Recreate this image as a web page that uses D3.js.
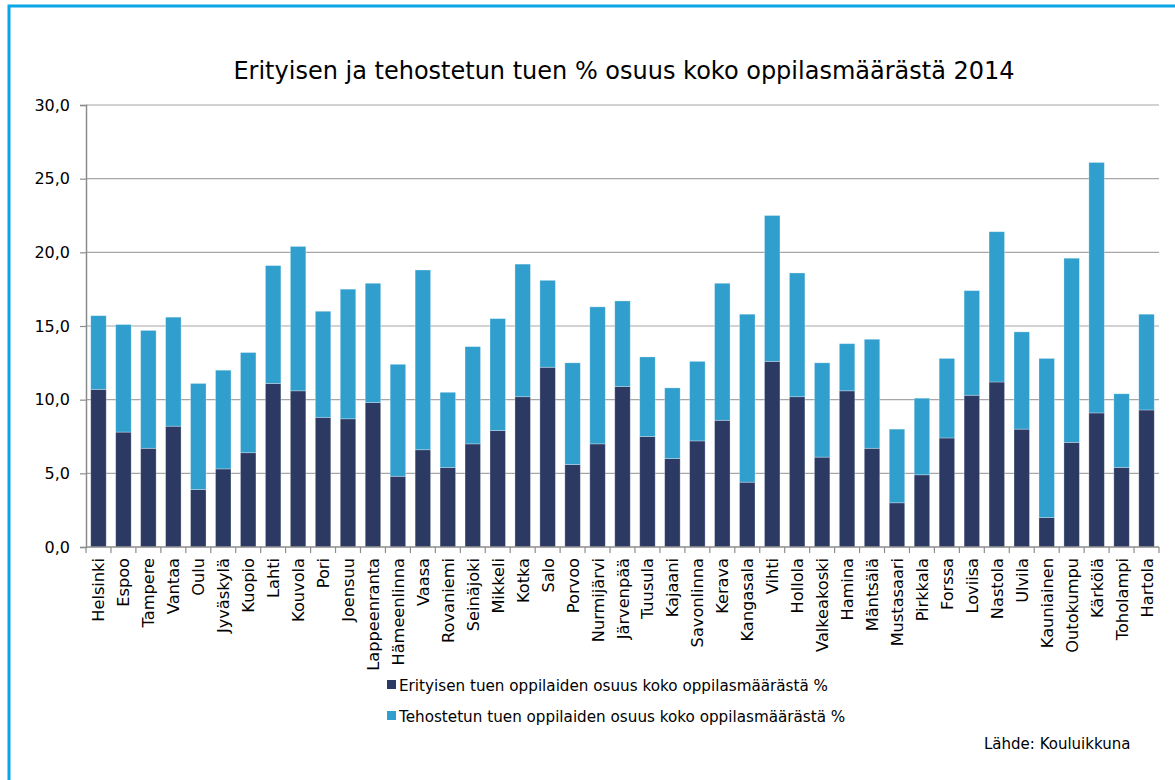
<!DOCTYPE html>
<html>
<head>
<meta charset="utf-8">
<script src="https://cdn.jsdelivr.net/npm/d3@7"></script>
<style>
  body { margin: 0; background: #fff; }
  svg text { font-family: "DejaVu Sans", Verdana, sans-serif; fill: #000; }
</style>
</head>
<body>
<div class="chart"></div>
<script>
var svgWidth = 1175;
var svgHeight = 780;

var margin = {top: 105, right: 16, bottom: 233, left: 86};
var width = svgWidth - margin.left - margin.right;
var height = svgHeight - margin.top - margin.bottom;

// kunnat
var municipalities = ['Helsinki', 'Espoo', 'Tampere', 'Vantaa', 'Oulu', 'Jyväskylä', 'Kuopio', 'Lahti',
  'Kouvola', 'Pori', 'Joensuu', 'Lappeenranta', 'Hämeenlinna', 'Vaasa', 'Rovaniemi', 'Seinäjoki',
  'Mikkeli', 'Kotka', 'Salo', 'Porvoo', 'Nurmijärvi', 'Järvenpää', 'Tuusula', 'Kajaani', 'Savonlinna',
  'Kerava', 'Kangasala', 'Vihti', 'Hollola', 'Valkeakoski', 'Hamina', 'Mäntsälä', 'Mustasaari',
  'Pirkkala', 'Forssa', 'Loviisa', 'Nastola', 'Ulvila', 'Kauniainen', 'Outokumpu', 'Kärkölä',
  'Toholampi', 'Hartola'];

// erityinen tuki %
var special = [10.7, 7.8, 6.7, 8.2, 3.9, 5.3, 6.4, 11.1, 10.6, 8.8, 8.7, 9.8, 4.8, 6.6, 5.4, 7.0,
  7.9, 10.2, 12.2, 5.6, 7.0, 10.9, 7.5, 6.0, 7.2, 8.6, 4.4, 12.6, 10.2, 6.1, 10.6, 6.7, 3.0,
  4.9, 7.4, 10.3, 11.2, 8.0, 2.0, 7.1, 9.1, 5.4, 9.3];

// tehostettu tuki %
var intensified = [5.0, 7.3, 8.0, 7.4, 7.2, 6.7, 6.8, 8.0, 9.8, 7.2, 8.8, 8.1, 7.6, 12.2, 5.1, 6.6,
  7.6, 9.0, 5.9, 6.9, 9.3, 5.8, 5.4, 4.8, 5.4, 9.3, 11.4, 9.9, 8.4, 6.4, 3.2, 7.4, 5.0,
  5.2, 5.4, 7.1, 10.2, 6.6, 10.8, 12.5, 17.0, 5.0, 6.5];

var yTicks = [0, 5, 10, 15, 20, 25, 30];
var seriesNames = ['Erityisen tuen oppilaiden osuus koko oppilasmäärästä %',
  'Tehostetun tuen oppilaiden osuus koko oppilasmäärästä %'];
var colors = ['#2c3a63', '#309fce'];

var data = municipalities.map(function(m, i) {
  return {name: m, special: special[i], intensified: intensified[i]};
});

var root = d3.select('.chart').append('svg')
  .attr('width', svgWidth)
  .attr('height', svgHeight);

// blue frame (left and top only visible)
root.append('path')
  .attr('d', 'M9,' + svgHeight + ' V6 H' + svgWidth)
  .attr('fill', 'none')
  .attr('stroke', '#0aa6e8')
  .attr('stroke-width', 3);

root.append('text')
  .attr('x', 624)
  .attr('y', 79)
  .attr('text-anchor', 'middle')
  .style('font-size', '24px')
  .text('Erityisen ja tehostetun tuen % osuus koko oppilasmäärästä 2014');

var chart = root.append('g')
  .attr('transform', 'translate(' + margin.left + ',' + margin.top + ')');

var x = d3.scaleBand().domain(municipalities).range([0, width]).paddingInner(0.38).paddingOuter(0.19);
var y = d3.scaleLinear().domain([0, 30]).range([height, 0]);

// gridlines
chart.append('g')
  .selectAll('line')
  .data(yTicks.slice(1))
  .enter().append('line')
  .attr('x1', 0).attr('x2', width)
  .attr('y1', function(d) { return y(d); })
  .attr('y2', function(d) { return y(d); })
  .attr('stroke', '#a6a6a6')
  .attr('stroke-width', 1.2);

var stack = d3.stack().keys(['special', 'intensified'])(data);

chart.selectAll('g.series')
  .data(stack)
  .enter().append('g')
  .attr('class', 'series')
  .attr('fill', function(d, i) { return colors[i]; })
  .selectAll('rect')
  .data(function(d) { return d; })
  .enter().append('rect')
  .attr('x', function(d) { return x(d.data.name); })
  .attr('width', x.bandwidth())
  .attr('y', function(d) { return y(d[1]); })
  .attr('height', function(d) { return y(d[0]) - y(d[1]); })
  .attr('stroke', 'rgba(255,255,255,0.35)')
  .attr('stroke-width', 0.8);

// y axis
var leftAxis = d3.axisLeft(y).tickValues(yTicks).tickSize(6).tickPadding(10)
  .tickFormat(function(d) { return d3.format('.1f')(d).replace('.', ','); });
var gy = chart.append('g').call(leftAxis);
gy.select('.domain').attr('stroke', '#8c8c8c').attr('stroke-width', 1.5);
gy.selectAll('.tick line').attr('stroke', '#8c8c8c').attr('stroke-width', 1.2);
gy.selectAll('.tick text')
  .style('font-size', '16px')
  .style('font-family', '"DejaVu Sans", Verdana, sans-serif')
  .attr('fill', '#000');

// x axis
var gx = chart.append('g').attr('transform', 'translate(0,' + height + ')');
gx.append('line')
  .attr('x1', 0).attr('x2', width)
  .attr('stroke', '#8c8c8c').attr('stroke-width', 1.5);
var step = x.step();
gx.selectAll('line.tick')
  .data(d3.range(municipalities.length + 1))
  .enter().append('line')
  .attr('class', 'tick')
  .attr('x1', function(i) { return i * step; })
  .attr('x2', function(i) { return i * step; })
  .attr('y1', 0).attr('y2', 6)
  .attr('stroke', '#8c8c8c').attr('stroke-width', 1.2);
gx.selectAll('text')
  .data(municipalities)
  .enter().append('text')
  .attr('transform', function(d) {
    return 'translate(' + (x(d) + x.bandwidth() / 2 + 6) + ',11) rotate(-90)';
  })
  .attr('text-anchor', 'end')
  .style('font-size', '16.2px')
  .text(function(d) { return d; });

// legend
var legend = root.append('g').attr('transform', 'translate(387,680)');
seriesNames.forEach(function(name, i) {
  var row = legend.append('g').attr('transform', 'translate(0,' + (i * 31) + ')');
  row.append('rect').attr('width', 9).attr('height', 9).attr('fill', colors[i]);
  row.append('text')
    .attr('x', 12).attr('y', 11)
    .style('font-size', '15.2px')
    .text(name);
});

root.append('text')
  .attr('x', 984)
  .attr('y', 749)
  .style('font-size', '15px')
  .text('Lähde: Kouluikkuna');
</script>
</body>
</html>
